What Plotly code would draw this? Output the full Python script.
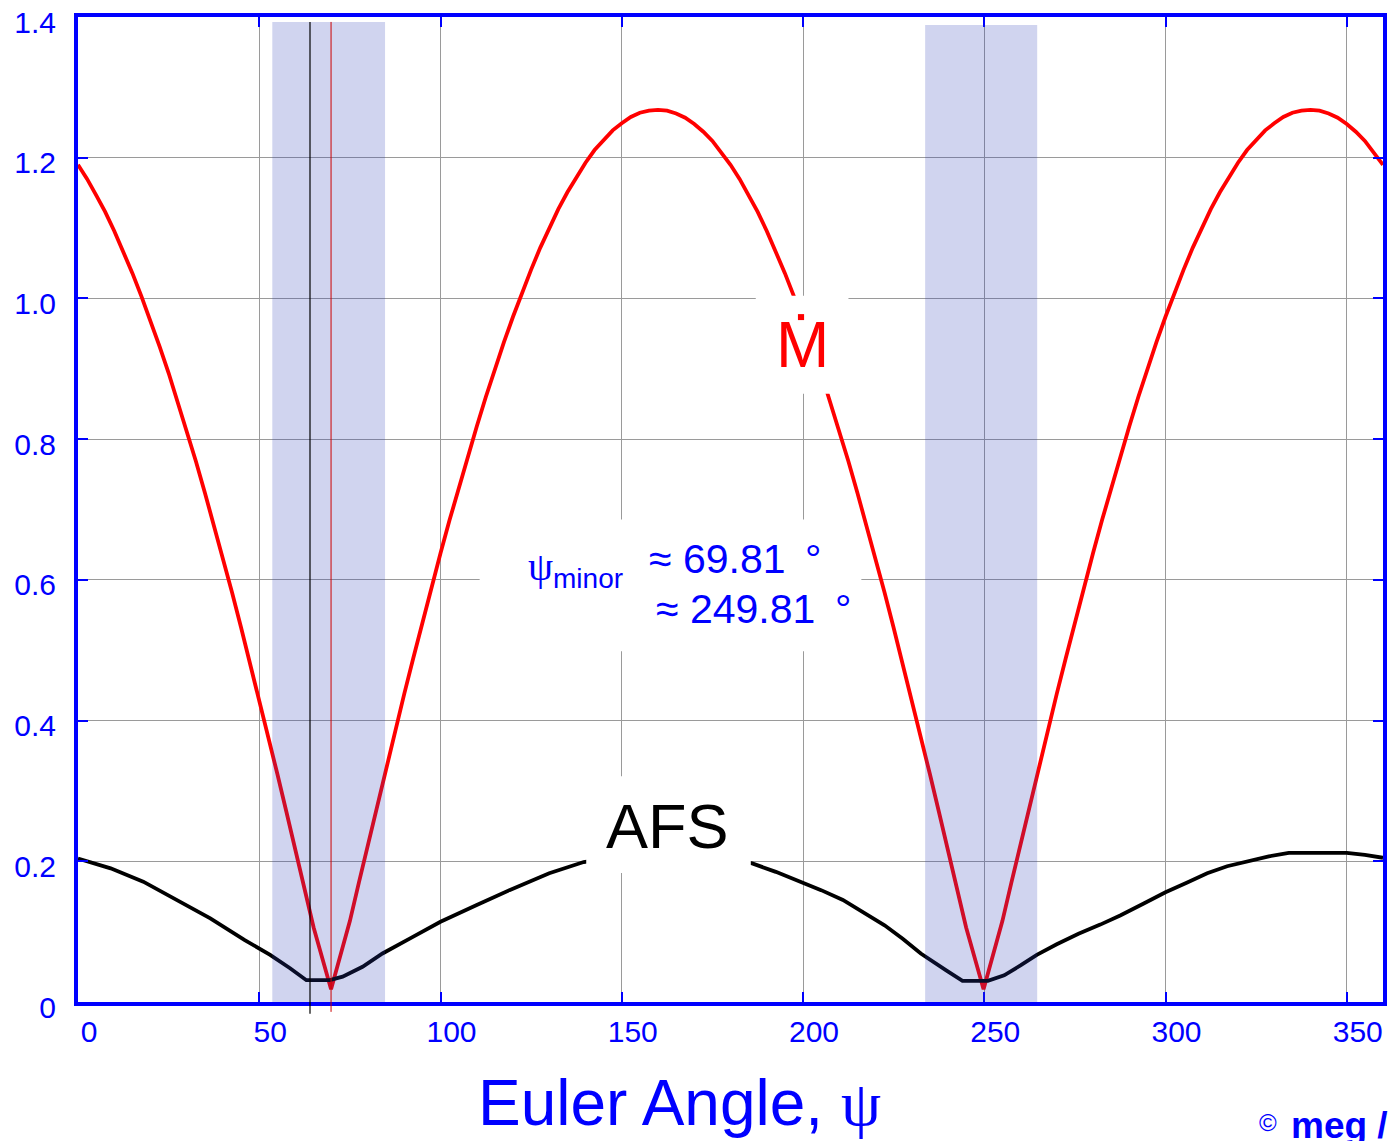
import plotly.graph_objects as go

# ---------------- data ----------------
psi_mdot = [0, 2.5, 5, 7.5, 10, 12.5, 15, 17.5, 20, 22.5, 25, 27.5, 30, 32.5, 35, 37.5, 40,
            42.5, 45, 47.5, 50, 52.5, 55, 57.5, 60, 62.5, 65, 69.81, 75, 77.5, 80, 82.5, 85,
            87.5, 90, 92.5, 95, 97.5, 100, 102.5, 105, 107.5, 110, 112.5, 115, 117.5, 120,
            122.5, 125, 127.5, 130, 132.5, 135, 137.5, 140, 142.5, 145, 147.5, 150, 152.5,
            155, 157.5, 160, 162.5, 165, 167.5, 170, 172.5, 175, 177.5, 180, 182.5, 185,
            187.5, 190, 192.5, 195, 197.5, 200, 202.5, 205, 207.5, 210, 212.5, 215, 217.5,
            220, 222.5, 225, 227.5, 230, 232.5, 235, 237.5, 240, 242.5, 245, 249.81, 255,
            257.5, 260, 262.5, 265, 267.5, 270, 272.5, 275, 277.5, 280, 282.5, 285, 287.5,
            290, 292.5, 295, 297.5, 300, 302.5, 305, 307.5, 310, 312.5, 315, 317.5, 320,
            322.5, 325, 327.5, 330, 332.5, 335, 337.5, 340, 342.5, 345, 347.5, 350, 352.5,
            355, 357.5, 360]
mdot = [1.190, 1.170, 1.147, 1.123, 1.096, 1.067, 1.036, 1.003, 0.969, 0.932, 0.894, 0.853,
        0.812, 0.769, 0.724, 0.678, 0.630, 0.582, 0.532, 0.481, 0.430, 0.377, 0.324, 0.270,
        0.216, 0.161, 0.106, 0.018, 0.115, 0.170, 0.224, 0.279, 0.332, 0.385, 0.438, 0.489,
        0.540, 0.589, 0.638, 0.685, 0.731, 0.775, 0.818, 0.860, 0.900, 0.938, 0.974, 1.008,
        1.041, 1.072, 1.100, 1.127, 1.151, 1.173, 1.193, 1.211, 1.226, 1.239, 1.249, 1.258,
        1.264, 1.267, 1.268, 1.267, 1.263, 1.257, 1.248, 1.237, 1.224, 1.208, 1.190, 1.170,
        1.147, 1.123, 1.096, 1.067, 1.036, 1.003, 0.969, 0.932, 0.894, 0.853, 0.812, 0.769,
        0.724, 0.678, 0.630, 0.582, 0.532, 0.481, 0.430, 0.377, 0.324, 0.270, 0.216, 0.161,
        0.106, 0.018, 0.115, 0.170, 0.224, 0.279, 0.332, 0.385, 0.438, 0.489, 0.540, 0.589,
        0.638, 0.685, 0.731, 0.775, 0.818, 0.860, 0.900, 0.938, 0.974, 1.008, 1.041, 1.072,
        1.100, 1.127, 1.151, 1.173, 1.193, 1.211, 1.226, 1.239, 1.249, 1.258, 1.264, 1.267,
        1.268, 1.267, 1.263, 1.257, 1.248, 1.237, 1.224, 1.208, 1.190]

psi_afs = [0, 9, 18, 27.5, 36.5, 46, 53, 58.5, 63, 69.5, 73, 78.5, 84, 91.5, 100, 110, 119,
           130, 139.5, 150, 163, 175, 186, 192.5, 199.5, 205, 211, 216.5, 222.5, 227.5, 232.5,
           239.5, 244, 251, 255.5, 260, 264.5, 270, 276, 282, 287.5, 294, 300, 306, 311.5,
           317, 323, 328.5, 334, 350, 355, 360]
afs = [0.204, 0.190, 0.171, 0.145, 0.119, 0.088, 0.067, 0.048, 0.031, 0.031, 0.036, 0.050,
       0.069, 0.090, 0.114, 0.138, 0.159, 0.183, 0.199, 0.207, 0.212, 0.207, 0.197, 0.185,
       0.171, 0.159, 0.145, 0.128, 0.109, 0.090, 0.069, 0.045, 0.030, 0.030, 0.038, 0.052,
       0.067, 0.082, 0.097, 0.110, 0.123, 0.140, 0.156, 0.170, 0.183, 0.193, 0.201, 0.207,
       0.212, 0.212, 0.209, 0.205]

x_tick_vals = [0, 50, 100, 150, 200, 250, 300, 350]
x_tick_text = ["0", "50", "100", "150", "200", "250", "300", "350"]
y_tick_vals = [0, 0.2, 0.4, 0.6, 0.8, 1.0, 1.2, 1.4]
y_tick_text = ["0", "0.2", "0.4", "0.6", "0.8", "1.0", "1.2", "1.4"]

bands = [(53.6, 84.7), (233.7, 264.6)]
psi_minor = [69.81, 249.81]
psi_marker = 64.0

BLUE = "#0000ff"
FONT = "Liberation Sans, Arial, sans-serif"

fig = go.Figure()
fig.add_trace(go.Scatter(x=psi_mdot, y=mdot, mode="lines",
                         line=dict(color="#ff0000", width=3.8), showlegend=False,
                         hoverinfo="skip"))
fig.add_trace(go.Scatter(x=psi_afs, y=afs, mode="lines",
                         line=dict(color="#000000", width=3.8), showlegend=False,
                         hoverinfo="skip"))

shapes = []
band_tops = [0.995, 0.992]
for (b0, b1), top in zip(bands, band_tops):
    shapes.append(dict(type="rect", xref="x", yref="paper", x0=b0, x1=b1, y0=0, y1=top,
                       fillcolor="rgba(40,60,180,0.22)", line=dict(width=0), layer="above"))
shapes.append(dict(type="line", xref="x", yref="paper", x0=psi_marker, x1=psi_marker,
                   y0=-0.012, y1=0.995, line=dict(color="#000000", width=1.2), layer="above"))
shapes.append(dict(type="line", xref="x", yref="paper", x0=psi_minor[0], x1=psi_minor[0],
                   y0=-0.01, y1=0.995, line=dict(color="#cc0000", width=1), layer="above"))

# white label boxes (cover grid and curves)
boxes = [(186.97, 212.54, 0.8647, 1.0038), (110.8, 216.1, 0.4984, 0.6858),
         (140.2, 185.6, 0.1832, 0.3209)]
for x0, x1, y0, y1 in boxes:
    shapes.append(dict(type="rect", xref="x", yref="y", x0=x0, x1=x1, y0=y0, y1=y1,
                       fillcolor="white", line=dict(width=0), layer="above"))
# dot of M-dot
shapes.append(dict(type="rect", xref="x", yref="y", x0=198.6, x1=200.3, y0=0.9693, y1=0.9778,
                   fillcolor="#ff0000", line=dict(width=0), layer="above"))

annotations = [
    dict(text="M", x=199.75, y=0.9335, xref="x", yref="y", xanchor="center",
         yanchor="middle", showarrow=False,
         font=dict(family=FONT, size=64, color="#ff0000")),
    dict(text="AFS", x=162.5, y=0.2499, xref="x", yref="y", xanchor="center",
         yanchor="middle", showarrow=False,
         font=dict(family=FONT, size=63, color="#000000")),
    dict(text="<span style='font-family:Liberation Serif'>ψ</span><sub>minor</sub>",
         x=123.7, y=0.615, xref="x", yref="y", xanchor="left", yanchor="middle",
         showarrow=False, font=dict(family=FONT, size=40, color=BLUE)),
    dict(text="≈ 69.81\u2009 °", x=157.1, y=0.630, xref="x", yref="y", xanchor="left",
         yanchor="middle", showarrow=False, font=dict(family=FONT, size=41, color=BLUE)),
    dict(text="≈ 249.81\u2009 °", x=158.9, y=0.558, xref="x", yref="y", xanchor="left",
         yanchor="middle", showarrow=False, font=dict(family=FONT, size=41, color=BLUE)),
    dict(text="Euler Angle, <span style='font-family:Liberation Serif'>ψ</span>",
         x=0.4607, y=-0.1024, xref="paper", yref="paper", xanchor="center",
         yanchor="middle", showarrow=False, font=dict(family=FONT, size=64, color=BLUE)),
    dict(text="©", x=0.9122, y=-0.1227, xref="paper", yref="paper", xanchor="center",
         yanchor="middle", showarrow=False, font=dict(family=FONT, size=24, color=BLUE)),
    dict(text="<b>meg /</b>", x=0.9282, y=-0.1255, xref="paper", yref="paper",
         xanchor="left", yanchor="middle", showarrow=False,
         font=dict(family=FONT, size=37, color=BLUE)),
]

axis_common = dict(showline=True, linewidth=4, linecolor=BLUE, mirror="ticks",
                   ticks="inside", ticklen=10, tickwidth=2, tickcolor=BLUE,
                   showgrid=True, gridcolor="#9a9a9a", gridwidth=1, zeroline=False,
                   tickfont=dict(family=FONT, size=30, color=BLUE))

fig.update_layout(
    width=1393, height=1141,
    margin=dict(l=78, r=6, t=15, b=139),
    paper_bgcolor="white", plot_bgcolor="white",
    xaxis=dict(range=[0, 360], tickvals=x_tick_vals, ticktext=x_tick_text,
               ticklabelshift=11, ticklabelstandoff=0, **axis_common),
    yaxis=dict(range=[0, 1.4001], tickvals=y_tick_vals, ticktext=y_tick_text,
               ticklabelshift=5, ticklabelstandoff=12, **axis_common),
    shapes=shapes, annotations=annotations,
)

fig.write_html("out.html", config={"displayModeBar": False},
               post_script="document.body.style.margin='0';")
